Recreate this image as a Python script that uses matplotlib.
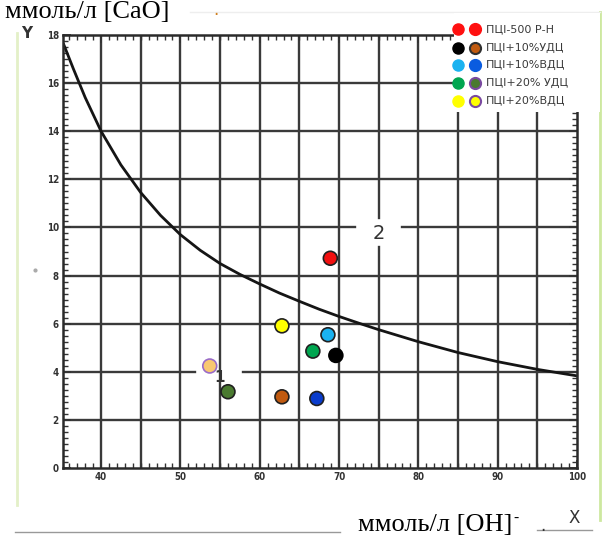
import matplotlib.pyplot as plt
from matplotlib.lines import Line2D
from matplotlib.patches import Rectangle
from matplotlib.ticker import MultipleLocator

# curve "2"
curve_x = [35.3, 36.5, 38, 40, 42.5, 45, 47.5, 50, 52.5, 55, 57.5, 60, 62.5,
           65, 67.5, 70, 72.5, 75, 80, 85, 90, 95, 100]
curve_y = [17.6, 16.6, 15.4, 14.0, 12.6, 11.45, 10.5, 9.7, 9.05, 8.5, 8.05, 7.65, 7.27,
           6.93, 6.6, 6.3, 6.02, 5.75, 5.25, 4.8, 4.42, 4.1, 3.83]

# measured points
pt_x = [68.9, 62.8, 68.6, 66.7, 69.6, 53.7, 56.0, 62.8, 67.2]
pt_y = [8.72, 5.91, 5.54, 4.86, 4.68, 4.24, 3.17, 2.96, 2.89]
pt_fill = ['#f21010', '#ffff00', '#1ab2f0', '#00a650', '#000000',
           '#f8c870', '#4a7a30', '#c05a10', '#0a3ccc']
pt_edge = ['#202020', '#202020', '#202020', '#202020', '#000000',
           '#9a6cc8', '#202020', '#202020', '#202020']

# legend
leg_names = ['ПЦІ-500 Р-Н', 'ПЦІ+10%УДЦ', 'ПЦІ+10%ВДЦ', 'ПЦІ+20% УДЦ', 'ПЦІ+20%ВДЦ']
leg_c1 = ['#ff1010', '#000000', '#1ab2f0', '#00a650', '#ffff00']
leg_c2 = ['#ff1010', '#c05a10', '#0a5ce0', '#4a7a30', '#ffff00']
leg_e2 = ['#ff1010', '#303030', '#0a5ce0', '#7a4aa0', '#7a4aa0']

x_ticks = [40, 50, 60, 70, 80, 90, 100]
y_ticks = [0, 2, 4, 6, 8, 10, 12, 14, 16, 18]

W, H = 605, 535
def fx(px):
    return px / W
def fy(py):
    return 1 - py / H

fig = plt.figure(figsize=(W / 100, H / 100), dpi=100)
ax = fig.add_axes([fx(63), fy(468), (577 - 63) / W, (468 - 35) / H])
ax.set_xlim(35.2, 100)
ax.set_ylim(0, 18)

gc = '#3a3a3a'
# grid with the gaps left for the labels "1" and "2"
for gx in [40, 45, 50, 55, 60, 65, 70, 80, 85, 90, 95]:
    ax.plot([gx, gx], [0, 18], color=gc, lw=1.7, zorder=1)
ax.plot([75, 75], [0, 9.2], color=gc, lw=1.7, zorder=1)
ax.plot([75, 75], [10.4, 18], color=gc, lw=1.7, zorder=1)
for gy in [2, 6, 8, 12, 14, 16]:
    ax.plot([35.2, 100], [gy, gy], color=gc, lw=1.7, zorder=1)
ax.plot([35.2, 51.9], [4, 4], color=gc, lw=1.7, zorder=1)
ax.plot([57.9, 100], [4, 4], color=gc, lw=1.7, zorder=1)
ax.plot([35.2, 72], [10, 10], color=gc, lw=1.7, zorder=1)
ax.plot([78, 100], [10, 10], color=gc, lw=1.7, zorder=1)

ax.plot(curve_x, curve_y, color='#151515', lw=2, zorder=2, solid_joinstyle='round')
ax.scatter(pt_x, pt_y, s=100, c=pt_fill, edgecolors=pt_edge, linewidths=1.2, zorder=3)

ax.text(75.05, 9.75, '2', fontsize=14, ha='center', va='center', color='#333333')
ax.text(54.9, 3.75, '1', fontsize=11, ha='center', va='center', color='#333333',
        fontweight='bold')

ax.set_xticks(x_ticks)
ax.set_yticks(y_ticks)
ax.xaxis.set_minor_locator(MultipleLocator(1))
ax.yaxis.set_minor_locator(MultipleLocator(0.25))
ax.tick_params(which='both', direction='in', top=True, right=True, colors='#333333')
ax.tick_params(which='major', length=6, width=1.2, labelsize=7, pad=3)
ax.tick_params(which='minor', length=3.5, width=1.0)
for lab in ax.get_xticklabels() + ax.get_yticklabels():
    lab.set_fontweight('bold')
    lab.set_fontstretch('condensed')
for sp in ax.spines.values():
    sp.set_linewidth(1.8)
    sp.set_color('#2a2a2a')

# light frame of the pasted picture
fig.add_artist(Line2D([fx(17), fx(17)], [fy(33), fy(505)], color='#e3f0c8', lw=2))
fig.add_artist(Line2D([fx(600), fx(600)], [fy(12), fy(520)], color='#cde8a0', lw=2))
fig.add_artist(Line2D([fx(190), fx(600)], [fy(12), fy(12)], color='#eeeeee', lw=1))

# legend box covering the corner of the chart
fig.add_artist(Rectangle((fx(454), fy(112)), fx(600) - fx(454), fy(13) - fy(112),
                         facecolor='white', edgecolor='none', zorder=5))
rows = [29, 48, 65, 83, 101]
for i, name in enumerate(leg_names):
    fig.add_artist(Line2D([fx(458)], [fy(rows[i])], marker='o', ms=8, color=leg_c1[i],
                          markeredgecolor=leg_c1[i], zorder=6))
    fig.add_artist(Line2D([fx(475)], [fy(rows[i])], marker='o', ms=8, color=leg_c2[i],
                          markeredgecolor=leg_e2[i], markeredgewidth=1.5, zorder=6))
    fig.text(fx(486), fy(rows[i]), name, fontsize=8, color='#3a3a3a', va='center',
             ha='left', zorder=7)

# axis titles
fig.text(fx(5), fy(18), 'ммоль/л [CaO]', fontsize=19, family='Liberation Serif',
         va='baseline', ha='left', color='black')
fig.text(fx(213), fy(15), '.', fontsize=12, color='#d08020', va='baseline')
fig.text(fx(27), fy(33), 'Y', fontsize=11, color='#333333', ha='center', va='center',
         fontweight='bold')
fig.add_artist(Line2D([fx(35)], [fy(270)], marker='o', ms=2, color='#aaaaaa'))

fig.text(fx(358), fy(531), 'ммоль/л [OH]', fontsize=19, family='Liberation Serif',
         va='baseline', ha='left', color='black')
fig.text(fx(513), fy(522), '-', fontsize=11, family='Liberation Serif',
         va='baseline', ha='left', color='black')
fig.text(fx(574), fy(518), 'X', fontsize=12, color='#333333', ha='center', va='center')
fig.text(fx(540), fy(531), '.', fontsize=12, color='#333333', va='baseline')
fig.add_artist(Line2D([fx(15), fx(340)], [fy(532), fy(532)], color='#999999', lw=1))
fig.add_artist(Line2D([fx(537), fx(592)], [fy(530), fy(530)], color='#999999', lw=1))

fig.savefig('out.png', dpi=100)
